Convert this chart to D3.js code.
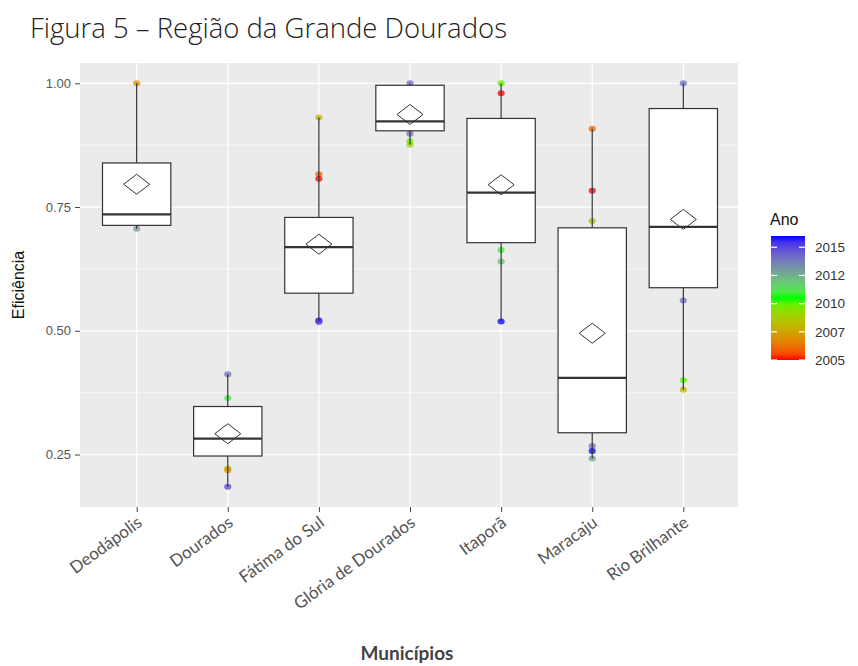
<!DOCTYPE html>
<html>
<head>
<meta charset="utf-8">
<script src="https://cdn.jsdelivr.net/npm/d3@7"></script>
<style>
  body { margin: 0; background: #fff; }
  svg { display: block; }
</style>
</head>
<body>
<svg id="chart" width="858" height="666"></svg>
<script>
// categorias e estatisticas das caixas
var municipios = ["Deodápolis", "Dourados", "Fátima do Sul", "Glória de Dourados", "Itaporã", "Maracaju", "Rio Brilhante"];
var minimo  = [0.706, 0.185, 0.519, 0.876, 0.519, 0.242, 0.381];
var q1      = [0.713, 0.247, 0.576, 0.904, 0.678, 0.294, 0.587];
var mediana = [0.735, 0.282, 0.669, 0.923, 0.779, 0.405, 0.710];
var q3      = [0.839, 0.347, 0.729, 0.996, 0.929, 0.708, 0.949];
var maximo  = [1.000, 0.412, 0.931, 1.000, 1.000, 0.908, 1.000];
var media   = [0.796, 0.292, 0.675, 0.937, 0.795, 0.495, 0.725];

// pontos visiveis fora das caixas
var pontoMun = ["Deodápolis", "Deodápolis",
  "Dourados", "Dourados", "Dourados", "Dourados", "Dourados",
  "Fátima do Sul", "Fátima do Sul", "Fátima do Sul", "Fátima do Sul", "Fátima do Sul",
  "Glória de Dourados", "Glória de Dourados", "Glória de Dourados", "Glória de Dourados",
  "Itaporã", "Itaporã", "Itaporã", "Itaporã", "Itaporã",
  "Maracaju", "Maracaju", "Maracaju", "Maracaju", "Maracaju", "Maracaju",
  "Rio Brilhante", "Rio Brilhante", "Rio Brilhante", "Rio Brilhante"];
var pontoValor = [1.000, 0.706,
  0.412, 0.364, 0.222, 0.218, 0.185,
  0.931, 0.816, 0.807, 0.521, 0.518,
  1.000, 0.898, 0.883, 0.876,
  1.000, 0.980, 0.663, 0.640, 0.519,
  0.908, 0.783, 0.722, 0.267, 0.257, 0.242,
  1.000, 0.561, 0.400, 0.381];
var pontoAno = [2007, 2013,
  2014, 2011, 2008, 2007, 2015,
  2008, 2006, 2005, 2016, 2015,
  2014, 2014, 2010, 2009,
  2010, 2005, 2011, 2012, 2016,
  2006, 2005, 2009, 2014, 2016, 2013,
  2014, 2014, 2010, 2008];

var yTicks = [0.25, 0.50, 0.75, 1.00];
var yMinor = [0.125, 0.375, 0.625, 0.875];
var anoBreaks = [2005, 2007.5, 2010, 2012.5, 2015];
var anoLabels = ["2005", "2007", "2010", "2012", "2015"];

var panel = { left: 80, right: 738, top: 63, bottom: 507 };

var svg = d3.select("#chart");

var x = d3.scalePoint()
    .domain(municipios)
    .range([82, 738])
    .padding(0.6);

var y = d3.scaleLinear()
    .domain([0.144, 1.041])
    .range([panel.bottom, panel.top]);

var cor = d3.scaleLinear()
    .domain([2005, 2010.5, 2016])
    .range(["#ff0000", "#00ff00", "#0000ff"])
    .interpolate(d3.interpolateLab)
    .clamp(true);

// titulo
svg.append("text")
    .attr("x", 30)
    .attr("y", 38)
    .style("font-family", "'Open Sans', sans-serif")
    .style("font-weight", 300)
    .style("font-size", "27.5px")
    .style("fill", "#222")
    .text("Figura 5 – Região da Grande Dourados");

// painel
svg.append("rect")
    .attr("x", panel.left)
    .attr("y", panel.top)
    .attr("width", panel.right - panel.left)
    .attr("height", panel.bottom - panel.top)
    .attr("fill", "#ebebeb");

var grid = svg.append("g");
grid.selectAll(".minor")
    .data(yMinor)
    .join("line")
    .attr("x1", panel.left).attr("x2", panel.right)
    .attr("y1", d => y(d)).attr("y2", d => y(d))
    .attr("stroke", "#fff").attr("stroke-width", 0.6);
grid.selectAll(".major")
    .data(yTicks)
    .join("line")
    .attr("x1", panel.left).attr("x2", panel.right)
    .attr("y1", d => y(d)).attr("y2", d => y(d))
    .attr("stroke", "#fff").attr("stroke-width", 1.2);
grid.selectAll(".vert")
    .data(municipios)
    .join("line")
    .attr("x1", d => x(d)).attr("x2", d => x(d))
    .attr("y1", panel.top).attr("y2", panel.bottom)
    .attr("stroke", "#fff").attr("stroke-width", 1.2);

// pontos (por baixo das caixas)
svg.append("g")
    .selectAll("ellipse")
    .data(pontoValor)
    .join("ellipse")
    .attr("cx", (d, i) => x(pontoMun[i]))
    .attr("cy", d => y(d))
    .attr("rx", 3.6)
    .attr("ry", 3)
    .attr("fill", (d, i) => cor(pontoAno[i]))
    .attr("opacity", 0.75);

// caixas
var bw = x.step() * 0.75;
var caixas = svg.append("g")
    .selectAll("g")
    .data(municipios)
    .join("g");

caixas.append("line")
    .attr("x1", d => x(d)).attr("x2", d => x(d))
    .attr("y1", (d, i) => y(maximo[i])).attr("y2", (d, i) => y(q3[i]))
    .attr("stroke", "#333").attr("stroke-width", 1.2);
caixas.append("line")
    .attr("x1", d => x(d)).attr("x2", d => x(d))
    .attr("y1", (d, i) => y(q1[i])).attr("y2", (d, i) => y(minimo[i]))
    .attr("stroke", "#333").attr("stroke-width", 1.2);
caixas.append("rect")
    .attr("x", d => x(d) - bw / 2)
    .attr("width", bw)
    .attr("y", (d, i) => y(q3[i]))
    .attr("height", (d, i) => y(q1[i]) - y(q3[i]))
    .attr("fill", "#fff")
    .attr("stroke", "#333").attr("stroke-width", 1.2);
caixas.append("line")
    .attr("x1", d => x(d) - bw / 2).attr("x2", d => x(d) + bw / 2)
    .attr("y1", (d, i) => y(mediana[i])).attr("y2", (d, i) => y(mediana[i]))
    .attr("stroke", "#333").attr("stroke-width", 2.2);
// media (losango)
caixas.append("path")
    .attr("d", (d, i) => {
        var cx = x(d), cy = y(media[i]);
        return "M" + (cx - 13) + "," + cy + "L" + cx + "," + (cy - 10) +
            "L" + (cx + 13) + "," + cy + "L" + cx + "," + (cy + 10) + "Z";
    })
    .attr("fill", "none")
    .attr("stroke", "#333").attr("stroke-width", 1);

// eixo y
var yAxis = svg.append("g")
    .attr("transform", "translate(" + panel.left + ",0)")
    .call(d3.axisLeft(y).tickValues(yTicks).tickFormat(d3.format(".2f")).tickSize(5).tickPadding(4));
yAxis.select(".domain").remove();
yAxis.selectAll("line").attr("stroke", "#444");
yAxis.selectAll("text")
    .style("font-family", "'Liberation Sans', Arial, sans-serif")
    .style("font-size", "13px")
    .attr("fill", "#555");

// eixo x
var xAxis = svg.append("g")
    .attr("transform", "translate(0," + panel.bottom + ")")
    .call(d3.axisBottom(x).tickSize(5).tickPadding(3));
xAxis.select(".domain").remove();
xAxis.selectAll("line").attr("stroke", "#444");
xAxis.selectAll("text")
    .style("font-family", "Lato, sans-serif")
    .style("font-size", "17px")
    .attr("fill", "#555")
    .attr("text-anchor", "end")
    .attr("dy", null)
    .attr("y", 0)
    .attr("transform", "translate(6,18) rotate(-36)");

// titulos dos eixos
svg.append("text")
    .attr("transform", "translate(24,285) rotate(-90)")
    .attr("text-anchor", "middle")
    .style("font-family", "'Liberation Sans', Arial, sans-serif")
    .style("font-size", "16px")
    .style("fill", "#111")
    .text("Eficiência");

svg.append("text")
    .attr("x", 407)
    .attr("y", 660)
    .attr("text-anchor", "middle")
    .style("font-family", "Lato, sans-serif")
    .style("font-weight", 700)
    .style("font-size", "19px")
    .style("fill", "#444")
    .text("Municípios");

// legenda
var ly = d3.scaleLinear().domain([2005, 2016]).range([360, 236]);
var defs = svg.append("defs");
var grad = defs.append("linearGradient")
    .attr("id", "rampa")
    .attr("x1", 0).attr("y1", 1).attr("x2", 0).attr("y2", 0);
grad.selectAll("stop")
    .data(d3.range(0, 1.0001, 0.05))
    .join("stop")
    .attr("offset", d => d)
    .attr("stop-color", d => cor(2005 + d * 11));

var leg = svg.append("g");
leg.append("text")
    .attr("x", 770)
    .attr("y", 225)
    .style("font-family", "'Liberation Sans', Arial, sans-serif")
    .style("font-size", "16px")
    .style("fill", "#111")
    .text("Ano");
leg.append("rect")
    .attr("x", 771)
    .attr("y", ly(2016))
    .attr("width", 34)
    .attr("height", ly(2005) - ly(2016))
    .attr("fill", "url(#rampa)");
leg.selectAll(".tl")
    .data(anoBreaks)
    .join("line")
    .attr("x1", 771).attr("x2", 777)
    .attr("y1", d => ly(d)).attr("y2", d => ly(d))
    .attr("stroke", "#fff").attr("stroke-width", 1.2);
leg.selectAll(".tr")
    .data(anoBreaks)
    .join("line")
    .attr("x1", 799).attr("x2", 805)
    .attr("y1", d => ly(d)).attr("y2", d => ly(d))
    .attr("stroke", "#fff").attr("stroke-width", 1.2);
leg.selectAll(".lab")
    .data(anoBreaks)
    .join("text")
    .attr("x", 815)
    .attr("y", d => ly(d))
    .attr("dy", "0.35em")
    .style("font-family", "'Liberation Sans', Arial, sans-serif")
    .style("font-size", "13.5px")
    .style("fill", "#333")
    .text((d, i) => anoLabels[i]);
</script>
</body>
</html>
